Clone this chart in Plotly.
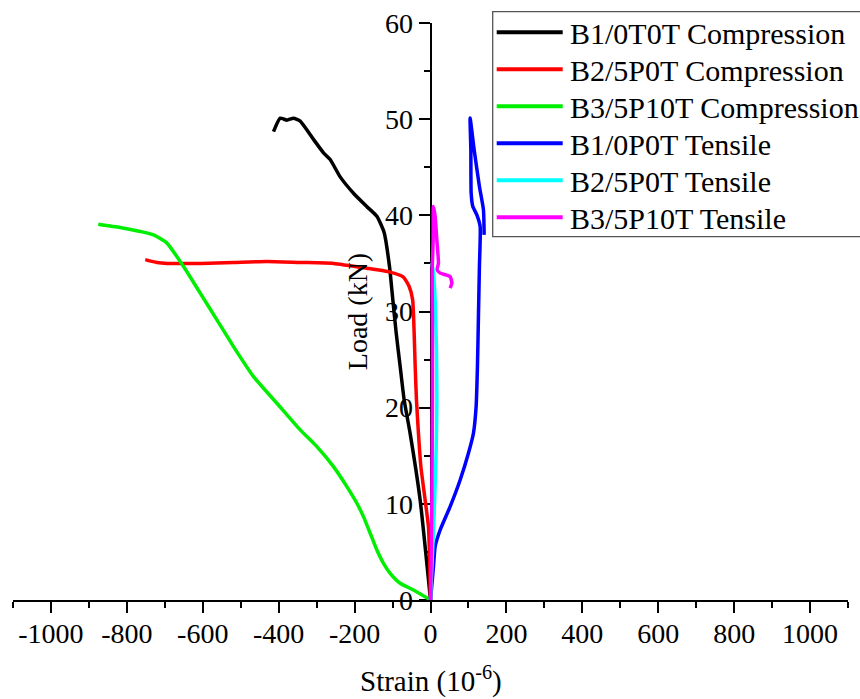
import plotly.graph_objects as go

# Load-strain curves (strain in microstrain, load in kN)
b1_comp_strain = [0, -27.3, -53.6, -69.4, -80.0, -90.5, -99.2, -108.1, -122.0, -141.3, -167.6,
                  -202.9, -238.0, -264.3, -281.9, -308.3, -343.3, -361.0, -378.3, -396.0, -413.6]
b1_comp_load = [0, 10.4, 17.3, 20.8, 24.3, 27.8, 31.2, 34.7, 38.2, 39.9, 40.9,
                42.3, 44.0, 45.8, 46.5, 47.9, 49.8, 50.1, 49.9, 50.1, 48.7]

b2_comp_strain = [0, -2.2, -5.4, -14.1, -25.4, -31.7, -37.0, -40.4, -43.1, -47.0, -56.2, -72.0,
                  -106.3, -167.6, -255.6, -343.3, -431.0, -519.0, -606.7, -694.4, -720.7, -751.5]
b2_comp_load = [0, 4.2, 7.6, 10.4, 13.9, 17.3, 20.8, 24.3, 27.8, 31.2, 32.6, 33.6,
                34.1, 34.5, 35.0, 35.1, 35.2, 35.1, 35.0, 35.0, 35.1, 35.4]

b3_comp_strain = [0, -44.9, -79.9, -106.3, -123.9, -141.3, -158.9, -176.6, -194.0, -220.3, -255.6,
                  -299.3, -343.3, -404.7, -466.3, -519.0, -562.7, -606.7, -650.6, -694.4, -729.7,
                  -764.7, -817.4, -875.3]
b3_comp_load = [0, 1.04, 1.74, 2.78, 3.82, 5.2, 6.94, 8.67, 10.06, 11.79, 13.87,
                15.95, 17.69, 20.46, 23.23, 26.35, 29.13, 31.91, 34.68, 37.11, 37.97,
                38.32, 38.73, 39.07]

b1_tens_strain = [0, 7.8, 12.2, 25.4, 51.7, 78.1, 99.9, 113.1, 120.2, 123.7, 126.3, 128.9, 130.8,
                  122.1, 111.5, 107.1, 106.3, 104.4, 115.0, 128.9, 139.5, 141.3]
b1_tens_load = [0, 3.46, 5.55, 7.28, 9.71, 12.48, 15.26, 17.34, 20.11, 24.27, 29.47, 34.68, 38.84,
                40.05, 40.92, 42.31, 46.82, 50.11, 46.82, 43.0, 40.57, 37.97]

b2_tens_strain = [0, 5.7, 10.9, 14.9, 16.7, 15.7, 12.2, 7.8, 3.6]
b2_tens_load = [0, 5.2, 10.4, 15.6, 20.8, 26.0, 31.2, 34.0, 35.06]

b3_tens_strain = [0, 1.7, 3.6, 5.1, 5.1, 4.3, 7.0, 7.8, 12.2, 16.7, 20.9, 17.5, 25.4, 51.7, 56.2, 51.7]
b3_tens_load = [0, 4.16, 10.4, 20.8, 29.1, 34.0, 37.45, 40.92, 39.88, 37.45, 35.03, 34.33, 33.99,
                33.64, 32.95, 32.43]

series_names = ["B1/0T0T Compression", "B2/5P0T Compression", "B3/5P10T Compression",
                "B1/0P0T Tensile", "B2/5P0T Tensile", "B3/5P10T Tensile"]
series_colors = ["#000000", "#ff0000", "#00ee00", "#0000ff", "#00ffff", "#ff00ff"]
series_x = [b1_comp_strain, b2_comp_strain, b3_comp_strain, b1_tens_strain, b2_tens_strain, b3_tens_strain]
series_y = [b1_comp_load, b2_comp_load, b3_comp_load, b1_tens_load, b2_tens_load, b3_tens_load]

x_tick_vals = [-1000, -800, -600, -400, -200, 0, 200, 400, 600, 800, 1000]
x_tick_text = ["-1000", "-800", "-600", "-400", "-200", "0", "200", "400", "600", "800", "1000"]

FONT = "Liberation Serif"
W, H = 860, 699
ML, MR, MT, MB = 13, 12, 23, 99
PW, PH = W - ML - MR, H - MT - MB


def paper_x(px):
    return (px - ML) / PW


def paper_y(py):
    return (H - MB - py) / PH


fig = go.Figure()
for name, color, xs, ys in zip(series_names, series_colors, series_x, series_y):
    fig.add_trace(go.Scatter(
        x=xs, y=ys, mode="lines", name=name,
        line=dict(color=color, width=3.5, shape="spline", smoothing=0.5),
        showlegend=False,
    ))

# Boxed legend with long line samples
shapes = [dict(type="rect", xref="paper", yref="paper",
               x0=paper_x(492.7), x1=paper_x(880), y0=paper_y(236.7), y1=paper_y(11.7),
               line=dict(color="#555555", width=1.3), fillcolor="rgba(255,255,255,0)")]
annotations = []
for i, (name, color) in enumerate(zip(series_names, series_colors)):
    yc = 32.3 + 37 * i
    shapes.append(dict(type="line", xref="paper", yref="paper",
                       x0=paper_x(496.7), x1=paper_x(562.7), y0=paper_y(yc), y1=paper_y(yc),
                       line=dict(color=color, width=4)))
    annotations.append(dict(xref="paper", yref="paper", x=paper_x(568), y=paper_y(yc + 1),
                            text=name, showarrow=False, xanchor="left", yanchor="middle",
                            font=dict(family=FONT, size=30, color="black")))

# Horizontal axis title placed under the tick labels
annotations.append(dict(xref="paper", yref="paper", x=0.5, y=paper_y(679),
                        text="Strain (10<sup>-6</sup>)", showarrow=False,
                        xanchor="center", yanchor="middle",
                        font=dict(family=FONT, size=29, color="black")))

fig.update_layout(
    width=W, height=H,
    margin=dict(l=ML, r=MR, t=MT, b=MB, autoexpand=False),
    paper_bgcolor="white", plot_bgcolor="white",
    font=dict(family=FONT, size=28, color="black"),
    shapes=shapes, annotations=annotations,
    showlegend=False,
)

fig.update_xaxes(
    range=[-1100, 1100], showgrid=False, zeroline=False, automargin=False,
    showline=True, linecolor="black", linewidth=2,
    ticks="outside", ticklen=11, tickwidth=2, tickcolor="black",
    tickmode="array", tickvals=x_tick_vals, ticktext=x_tick_text,
    tickfont=dict(family=FONT, size=28), ticklabelstandoff=-4,
    minor=dict(ticks="outside", ticklen=6, tickwidth=2, tickcolor="black",
               tickmode="linear", tick0=-1100, dtick=100),
    layer="below traces",
)

fig.update_yaxes(
    range=[0, 60], anchor="free", position=0.5, automargin=False,
    showgrid=False, zeroline=False,
    showline=True, linecolor="black", linewidth=2,
    ticks="outside", ticklen=11, tickwidth=2, tickcolor="black",
    dtick=10, tick0=0,
    tickfont=dict(family=FONT, size=28),
    minor=dict(ticks="outside", ticklen=6, tickwidth=2, tickcolor="black", dtick=5),
    title=dict(text="Load (kN)", font=dict(family=FONT, size=28), standoff=8),
    layer="below traces",
)

fig.write_html("out.html")
